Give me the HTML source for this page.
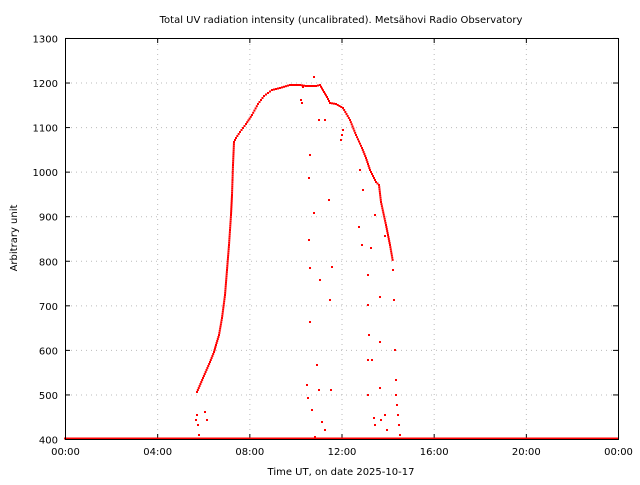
<!DOCTYPE html>
<html><head><meta charset="utf-8"><style>
body{margin:0;background:#fff}
svg text{font-family:"DejaVu Sans","Liberation Sans",sans-serif;font-size:10px;fill:#000}
</style></head><body>
<svg id="s" width="640" height="480" xmlns="http://www.w3.org/2000/svg">
<rect width="640" height="480" fill="#fff"/>
<text x="341" y="23" text-anchor="middle">Total UV radiation intensity (uncalibrated). Metsähovi Radio Observatory</text>
<text x="341" y="475" text-anchor="middle">Time UT, on date 2025-10-17</text>
<text transform="translate(17,238) rotate(-90)" text-anchor="middle">Arbitrary unit</text>
<g id="g"></g>
<g id="p" fill="#f00"></g>
<rect x="65.5" y="38.5" width="553" height="401" fill="none" stroke="#000" stroke-width="1"/>
</svg>
<script>
var g=document.getElementById('g'),p=document.getElementById('p'),NS='http://www.w3.org/2000/svg';
function el(t,a,par){var e=document.createElementNS(NS,t);for(var k in a)e.setAttribute(k,a[k]);(par||g).appendChild(e);return e;}
var xl=['00:00','04:00','08:00','12:00','16:00','20:00','00:00'];
for(var i=0;i<7;i++){var x=65.5+i*92.17;
 if(i>0&&i<6)el('line',{x1:x,y1:39,x2:x,y2:439,stroke:'#bbb','stroke-dasharray':'1,4'});
 el('line',{x1:x,y1:439,x2:x,y2:434,stroke:'#000'});el('line',{x1:x,y1:38,x2:x,y2:43,stroke:'#000'});
 var t=el('text',{x:x,y:455,'text-anchor':'middle'});t.textContent=xl[i];}
for(var j=0;j<10;j++){var y=439.5-j*44.56;
 if(j>0&&j<9)el('line',{x1:66,y1:y,x2:618,y2:y,stroke:'#bbb','stroke-dasharray':'1,4'});
 el('line',{x1:65,y1:y,x2:70,y2:y,stroke:'#000'});el('line',{x1:618,y1:y,x2:613,y2:y,stroke:'#000'});
 var t=el('text',{x:58,y:y+4,'text-anchor':'end'});t.textContent=400+j*100;}
var c=[[197,392],[203,378],[210,362],[214,352],[216,345],[219,335],[222,318],[225,295],[227,270],[229,245],[231,215],[232,195],[233,165],[234,142],[236,138],[240,132],[246,124],[252,115],[258,104],[264,96],[272,90],[280,88],[290,85],[300,85],[306,86],[316,86],[320,85],[324,92],[327,97],[330,103],[336,104],[343,108],[350,120],[356,135],[362,148],[366,158],[370,170],[376,182],[379,185],[381,202],[386,225],[390,245],[393,262]];
function dot(x,y){el('rect',{x:x-1,y:y-1,width:2,height:2},p);}
for(var x=65;x<=618;x+=1.5)dot(x,438.5);
for(var k=0;k<c.length-1;k++){var a=c[k],b=c[k+1],d=Math.max(Math.abs(b[0]-a[0]),Math.abs(b[1]-a[1]));var n=Math.max(1,Math.ceil(d/2.2));
 for(var m=0;m<n;m++){var f=m/n;dot(a[0]+(b[0]-a[0])*f,a[1]+(b[1]-a[1])*f);}}
var o=[[196,420],[197,415],[198,425],[199,435],[205,412],[207,420],[393,270],[394,300],[395,350],[396,380],[396,395],[397,405],[398,415],[399,425],[400,435],[310,155],[309,178],[309,240],[314,213],[310,268],[310,322],[307,385],[308,398],[312,410],[317,365],[319,390],[320,280],[319,120],[325,120],[329,200],[332,267],[330,300],[331,390],[322,422],[325,430],[315,437],[343,130],[342,135],[341,140],[359,227],[362,245],[368,275],[371,248],[368,305],[369,335],[368,360],[372,360],[368,395],[374,418],[375,425],[380,297],[380,342],[380,388],[381,420],[385,415],[387,430],[385,236],[375,215],[360,170],[363,190],[314,77],[303,87],[301,100],[302,103]];
o.forEach(function(q){dot(q[0],q[1]);});
</script>
</body></html>
